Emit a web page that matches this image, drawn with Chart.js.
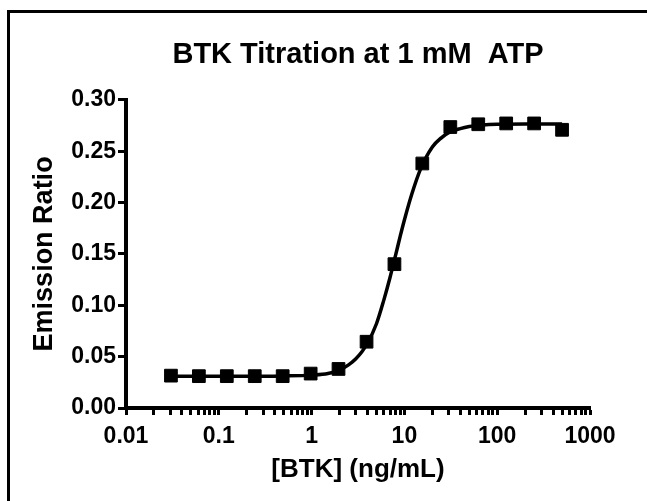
<!DOCTYPE html>
<html>
<head>
<meta charset="utf-8">
<script src="https://cdn.jsdelivr.net/npm/chart.js@4/dist/chart.umd.min.js"></script>
<style>
  html, body { margin: 0; padding: 0; background: #fff; }
  #wrap { position: relative; width: 647px; height: 501px; overflow: hidden; }
  #frame { position: absolute; left: 7px; top: 10px; width: 650px; height: 600px;
           border-left: 3px solid #000; border-top: 3px solid #000; }
  canvas { position: absolute; left: 0; top: 0; }
</style>
</head>
<body>
<div id="wrap">
  <div id="frame"></div>
  <canvas id="chart" width="647" height="501"></canvas>
</div>
<script>
const concNg   = [0.0305, 0.061, 0.122, 0.244, 0.488, 0.977, 1.95, 3.91, 7.81, 15.6, 31.25, 62.5, 125, 250, 500];
const ratio    = [0.0315, 0.031, 0.031, 0.031, 0.031, 0.0335, 0.038, 0.0645, 0.140, 0.238, 0.2735, 0.2762, 0.277, 0.277, 0.2708];

const curveX   = [0.03, 0.1, 0.3, 0.5, 1, 1.5, 2, 2.5, 3, 3.5, 4, 5, 6, 7, 8, 9, 10, 12, 15, 20, 25, 30, 40, 50, 70, 100, 200, 500];
const curveY   = [0.031, 0.031, 0.031, 0.0312, 0.032, 0.0335, 0.037, 0.042, 0.048, 0.055, 0.063, 0.082, 0.105, 0.127, 0.148, 0.167, 0.183, 0.208, 0.233, 0.254, 0.263, 0.268, 0.272, 0.274, 0.2755, 0.2762, 0.2765, 0.2765];

const xMajor   = [0.01, 0.1, 1, 10, 100, 1000];
const xLabels  = ['0.01', '0.1', '1', '10', '100', '1000'];
const xMinor   = [2, 3, 4, 5, 6, 7, 8, 9];

const FONT = "'Liberation Sans', Arial, sans-serif";

const ctx = document.getElementById('chart');
new Chart(ctx, {
  type: 'scatter',
  data: {
    datasets: [
      {
        label: 'fit',
        type: 'line',
        data: curveX.map((x, i) => ({ x, y: curveY[i] })),
        borderColor: '#000',
        borderWidth: 3.5,
        pointRadius: 0,
        cubicInterpolationMode: 'monotone',
        fill: false,
        order: 2,
      },
      {
        label: 'BTK',
        data: concNg.map((x, i) => ({ x, y: ratio[i] })),
        backgroundColor: '#000',
        borderColor: '#000',
        pointStyle: 'rect',
        pointRadius: 9,
        showLine: false,
        order: 1,
      },
    ],
  },
  options: {
    responsive: false,
    animation: false,
    layout: { padding: { left: 24, right: 57, top: 20, bottom: 10 } },
    plugins: {
      legend: { display: false },
      tooltip: { enabled: false },
      title: {
        display: true,
        text: 'BTK Titration at 1 mM  ATP',
        fullSize: false,
        color: '#000',
        font: { family: FONT, size: 29, weight: 'bold' },
        padding: { top: 18, bottom: 27 },
      },
    },
    scales: {
      x: {
        type: 'logarithmic',
        min: 0.01, max: 1000,
        afterFit: s => { s.height = 83; },
        afterBuildTicks: s => {
          const t = [];
          xMajor.forEach((d, i) => {
            t.push({ value: d, major: true });
            if (i < xMajor.length - 1) xMinor.forEach(m => t.push({ value: d * m }));
          });
          s.ticks = t;
        },
        ticks: {
          autoSkip: false, maxRotation: 0, padding: 8,
          color: '#000',
          font: { family: FONT, size: 23, weight: 'bold' },
          callback: v => { const i = xMajor.findIndex(d => Math.abs(d - v) / d < 1e-6); return i >= 0 ? xLabels[i] : ''; },
        },
        grid: { drawOnChartArea: false, drawTicks: true, tickLength: 7, tickWidth: 3, tickColor: '#000' },
        border: { display: true, width: 4, color: '#000' },
        title: {
          display: true, text: '[BTK] (ng/mL)', color: '#000',
          font: { family: FONT, size: 26, weight: 'bold' },
          padding: { top: 0, bottom: 6 },
        },
      },
      y: {
        min: 0, max: 0.30,
        afterFit: s => { s.width = 102; },
        ticks: {
          stepSize: 0.05, padding: 2,
          color: '#000',
          font: { family: FONT, size: 23, weight: 'bold' },
          callback: v => v.toFixed(2),
        },
        grid: { drawOnChartArea: false, drawTicks: true, tickLength: 8, tickWidth: 3, tickColor: '#000' },
        border: { display: true, width: 4, color: '#000' },
        title: {
          display: true, text: 'Emission Ratio', color: '#000',
          font: { family: FONT, size: 27, weight: 'bold' },
          padding: { top: 4, bottom: 0 },
        },
      },
    },
  },
});
</script>
</body>
</html>
